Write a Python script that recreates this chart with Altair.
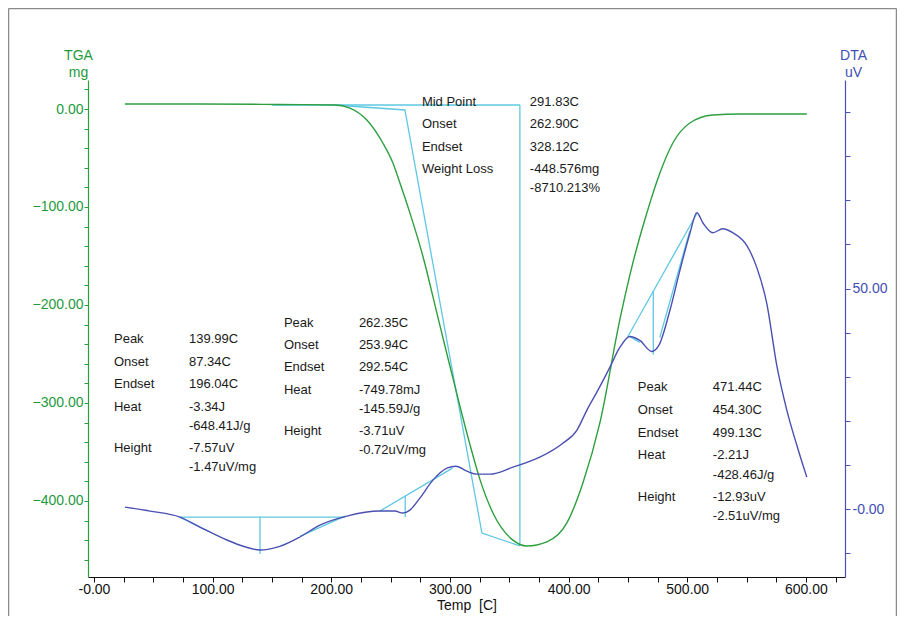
import altair as alt
import pandas as pd

# ---------------- data ----------------
# TGA curve (Temp [C], mg)
tga_temp = [26.1, 89.3, 156.7, 203.1, 215.7, 230.0, 243.5, 252.0, 257.9, 266.3, 277.2, 289.0, 297.5,
            308.4, 316.8, 325.3, 336.2, 353.1, 364.9, 381.7, 398.6, 412.1, 426.4, 443.2, 454.2, 466.0,
            477.0, 487.9, 502.2, 521.6, 544.4, 600.8]
tga_mg = [5.1, 5.1, 4.6, 4.1, 1.0, -11.2, -34.7, -55.1, -75.5, -106.0, -150.0, -208.0, -250.0,
          -303.0, -342.0, -378.0, -412.0, -440.0, -446.0, -441.8, -422.4, -381.6, -320.4, -215.3, -157.1, -106.1,
          -65.3, -34.7, -14.3, -6.1, -5.1, -5.1]

# DTA curve (Temp [C], uV)
dta_temp = [26.1, 47.2, 72.5, 89.3, 112.1, 127.2, 139.9, 156.7, 173.6, 190.4, 213.2, 241.0, 253.6, 260.4,
            266.3, 274.7, 285.7, 297.5, 305.1, 314.3, 322.8, 333.7, 353.1, 375.8, 395.2, 407.0, 415.4,
            424.7, 434.8, 443.2, 451.7, 460.1, 470.2, 476.1, 485.4, 493.8, 502.2, 508.1, 513.2, 521.6,
            530.0, 538.4, 550.3, 558.7, 567.1, 575.5, 584.0, 592.4, 600.8]
dta_uv = [0.45, -0.45, -1.81, -4.07, -7.01, -8.55, -9.28, -8.45, -6.33, -3.62, -1.58, -0.45, -0.45, -0.90,
          -0.23, 2.49, 6.56, 9.28, 9.73, 8.60, 7.92, 7.92, 9.50, 11.76, 14.93, 17.87, 22.40,
          26.92, 32.13, 36.65, 39.14, 38.24, 35.75, 37.10, 45.02, 54.07, 62.44, 67.19, 64.93, 62.67,
          63.57, 62.67, 59.73, 54.75, 46.61, 32.58, 22.40, 14.48, 7.24]

# TGA analysis lines (segment id, temp, mg)
tga_line_seg = [1, 1, 2, 2, 2, 2, 3, 3]
tga_line_temp = [150.0, 359.0, 203.1, 262.1, 327.0, 359.0, 359.0, 359.0]
tga_line_mg = [4.1, 4.1, 4.1, -1.0, -432.7, -445.9, -445.9, 4.1]

# DTA analysis lines (segment id, temp, uV)
dta_line_seg = [1, 1, 2, 2, 3, 3, 4, 4, 5, 5, 6, 6, 7, 7, 8, 8, 9, 9, 10, 10]
dta_line_temp = [72.5, 211.6, 139.99, 139.99, 72.5, 97.8, 173.6, 211.6, 241.0, 302.2, 262.35, 262.35,
                 450.0, 508.1, 471.44, 471.44, 451.7, 460.1, 476.9, 502.2]
dta_line_uv = [-1.81, -1.81, -1.81, -10.2, -1.81, -5.2, -6.2, -1.6, -0.45, 9.28, 2.94, -1.81,
               39.14, 66.97, 49.4, 35.0, 39.1, 37.8, 38.9, 63.1]

# annotation texts (positioned on the Temp / TGA scales)
tga_lbl_text = ["Mid Point", "Onset", "Endset", "Weight Loss"]
tga_lbl_mg = [7.4, -15.3, -38.8, -61.2]
tga_val_text = ["291.83C", "262.90C", "328.12C", "-448.576mg", "-8710.213%"]
tga_val_mg = [7.4, -15.3, -38.8, -61.2, -80.6]

pk1_lbl_text = ["Peak", "Onset", "Endset", "Heat", "Height"]
pk1_lbl_mg = [-234.7, -258.2, -280.6, -304.1, -345.9]
pk1_val_text = ["139.99C", "87.34C", "196.04C", "-3.34J", "-648.41J/g", "-7.57uV", "-1.47uV/mg"]
pk1_val_mg = [-234.7, -258.2, -280.6, -304.1, -323.5, -345.9, -365.3]

pk2_lbl_text = ["Peak", "Onset", "Endset", "Heat", "Height"]
pk2_lbl_mg = [-218.4, -240.8, -263.3, -286.7, -328.6]
pk2_val_text = ["262.35C", "253.94C", "292.54C", "-749.78mJ", "-145.59J/g", "-3.71uV", "-0.72uV/mg"]
pk2_val_mg = [-218.4, -240.8, -263.3, -286.7, -306.1, -328.6, -348.0]

pk3_lbl_text = ["Peak", "Onset", "Endset", "Heat", "Height"]
pk3_lbl_mg = [-283.7, -307.1, -330.6, -353.1, -395.9]
pk3_val_text = ["471.44C", "454.30C", "499.13C", "-2.21J", "-428.46J/g", "-12.93uV", "-2.51uV/mg"]
pk3_val_mg = [-283.7, -307.1, -330.6, -353.1, -373.5, -395.9, -415.3]

# text column x positions (Temp [C])
tga_lbl_x, tga_val_x = 276.4, 367.4
pk1_lbl_x, pk1_val_x = 16.9, 80.1
pk2_lbl_x, pk2_val_x = 160.1, 223.3
pk3_lbl_x, pk3_val_x = 458.4, 521.6

x_ticks = list(range(0, 626, 25))
tga_ticks = list(range(-460, 21, 20))
dta_ticks = list(range(-10, 91, 10))

# ---------------- styling ----------------
GREEN_TXT = "#1e9a3c"
GREEN_LINE = "#2e9f3f"
BLUE_TXT = "#3f4fb4"
BLUE_LINE = "#4a50b2"
CYAN = "#5ec8e2"
FONT = "Liberation Sans"
W, H = 757, 497

# ---------------- frames ----------------
tga_df = pd.DataFrame({"temp": tga_temp, "mg": tga_mg, "ord": range(len(tga_temp))})
dta_df = pd.DataFrame({"temp": dta_temp, "uv": dta_uv, "ord": range(len(dta_temp))})
tga_seg_df = pd.DataFrame({"seg": tga_line_seg, "temp": tga_line_temp, "mg": tga_line_mg,
                           "ord": range(len(tga_line_seg))})
dta_seg_df = pd.DataFrame({"seg": dta_line_seg, "temp": dta_line_temp, "uv": dta_line_uv,
                           "ord": range(len(dta_line_seg))})

rows = []
for texts, ys, xx in [
    (tga_lbl_text, tga_lbl_mg, tga_lbl_x), (tga_val_text, tga_val_mg, tga_val_x),
    (pk1_lbl_text, pk1_lbl_mg, pk1_lbl_x), (pk1_val_text, pk1_val_mg, pk1_val_x),
    (pk2_lbl_text, pk2_lbl_mg, pk2_lbl_x), (pk2_val_text, pk2_val_mg, pk2_val_x),
    (pk3_lbl_text, pk3_lbl_mg, pk3_lbl_x), (pk3_val_text, pk3_val_mg, pk3_val_x),
]:
    for t, y in zip(texts, ys):
        rows.append({"label": t, "temp": xx, "mg": y})
text_df = pd.DataFrame(rows)

x_scale = alt.Scale(domain=[-5, 633], nice=False, zero=False)
x_axis = alt.Axis(
    values=x_ticks,
    labelExpr="datum.value % 100 == 0 ? (datum.value == 0 ? '-0.00' : format(datum.value, '.2f')) : ''",
    labelFontSize=14, labelFont=FONT, labelColor="#111", labelPadding=0,
    domainColor="#111", domainWidth=1.2, tickColor="#111", tickSize=5, grid=False,
    title="Temp \u00a0[C]", titleFont=FONT, titleFontSize=14, titleFontWeight="normal",
    titleColor="#111", titlePadding=2, labelFlush=False, labelOverlap=False,
)
X = alt.X("temp:Q", scale=x_scale, axis=x_axis)

tga_scale = alt.Scale(domain=[-477.6, 29.6], nice=False, zero=False)
tga_axis = alt.Axis(
    orient="left", values=tga_ticks,
    labelExpr="datum.value % 100 == 0 ? format(datum.value, '.2f') : ''",
    labelFontSize=14, labelFont=FONT, labelColor=GREEN_TXT, labelPadding=1,
    domainColor=GREEN_LINE, domainWidth=1.2, tickColor=GREEN_LINE, tickSize=4, grid=False,
    title=["TGA", "mg"], titleAngle=0, titleAlign="center", titleBaseline="bottom",
    titleX=-10, titleY=-18, titleFont=FONT, titleFontSize=14, titleFontWeight="normal",
    titleColor=GREEN_TXT, titleLineHeight=17, labelOverlap=False, labelFlush=False,
)
dta_scale = alt.Scale(domain=[-15.4, 97.3], nice=False, zero=False)
dta_axis = alt.Axis(
    orient="right", values=dta_ticks,
    labelExpr="datum.value == 0 ? '-0.00' : (datum.value == 50 ? '50.00' : '')",
    labelFontSize=14, labelFont=FONT, labelColor=BLUE_TXT, labelPadding=2,
    domainColor=BLUE_LINE, domainWidth=1.2, tickColor=BLUE_LINE, tickSize=5, grid=False,
    title=["DTA", "uV"], titleAngle=0, titleAlign="center", titleBaseline="bottom",
    titleX=8, titleY=-18, titleFont=FONT, titleFontSize=14, titleFontWeight="normal",
    titleColor=BLUE_TXT, titleLineHeight=17, labelOverlap=False, labelFlush=False,
)

Y_TGA = alt.Y("mg:Q", scale=tga_scale, axis=tga_axis)
Y_DTA = alt.Y("uv:Q", scale=dta_scale, axis=dta_axis)

tga_cyan = alt.Chart(tga_seg_df).mark_line(color=CYAN, strokeWidth=1.3).encode(
    x=X, y=Y_TGA, detail="seg:N", order="ord:Q")
tga_line = alt.Chart(tga_df).mark_line(color=GREEN_LINE, strokeWidth=1.4, interpolate="monotone").encode(
    x=X, y=Y_TGA, order="ord:Q")
texts = alt.Chart(text_df).mark_text(align="left", baseline="middle", font=FONT, fontSize=13,
                                     color="#1a1a1a").encode(x=X, y=Y_TGA, text="label:N")

dta_cyan = alt.Chart(dta_seg_df).mark_line(color=CYAN, strokeWidth=1.3).encode(
    x=X, y=Y_DTA, detail="seg:N", order="ord:Q")
dta_line = alt.Chart(dta_df).mark_line(color=BLUE_LINE, strokeWidth=1.4, interpolate="monotone").encode(
    x=X, y=Y_DTA, order="ord:Q")

# outer gray frame (left, top and right edges only)
frame_src = pd.DataFrame({"f": [0]})
frame_style = dict(color="#8a8a8a", strokeWidth=1.5)
frame_left = alt.Chart(frame_src).mark_rule(**frame_style).encode(
    x=alt.value(-79.5), y=alt.value(-71.5), y2=alt.value(545))
frame_right = alt.Chart(frame_src).mark_rule(**frame_style).encode(
    x=alt.value(808.5), y=alt.value(-71.5), y2=alt.value(545))
frame_top = alt.Chart(frame_src).mark_rule(**frame_style).encode(
    x=alt.value(-79.5), x2=alt.value(808.5), y=alt.value(-71.5))

tga_group = alt.layer(tga_cyan, tga_line, texts)
dta_group = alt.layer(dta_cyan, dta_line)

chart = alt.layer(frame_left, frame_right, frame_top, tga_group, dta_group).resolve_scale(
    y="independent").properties(
    width=W, height=H,
    autosize=alt.AutoSizeParams(type="none"),
    padding={"left": 80, "top": 72, "right": 52, "bottom": 39},
    background="white",
).configure_view(stroke=None)

chart.save("out.html", embed_options={"renderer": "svg", "actions": False})
